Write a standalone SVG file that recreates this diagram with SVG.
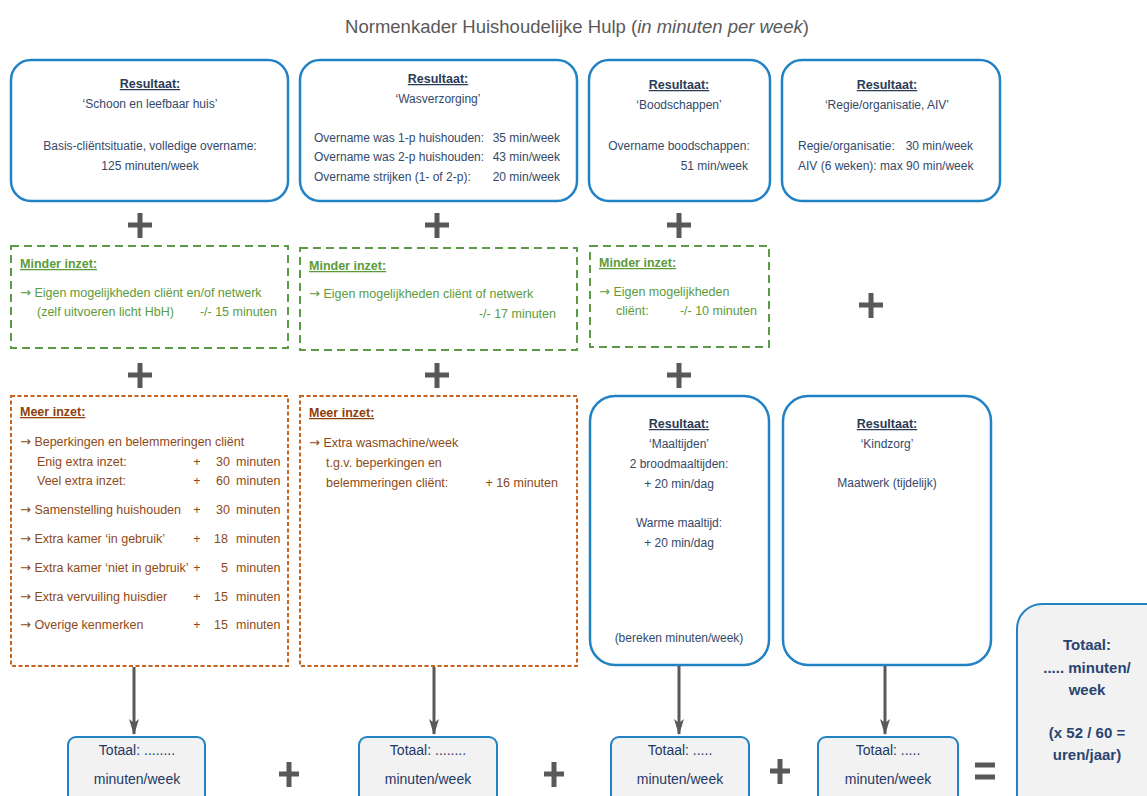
<svg xmlns="http://www.w3.org/2000/svg" width="1147" height="796" viewBox="0 0 1147 796">
<style>
  text { font-family: "Liberation Sans", Arial, sans-serif; }
  .title { font-size: 18.5px; fill: #595959; }
  .res { fill: #fff; stroke: #2382c4; stroke-width: 2.5; }
  .tot { fill: #f2f2f2; stroke: #2382c4; stroke-width: 2; }
  .min { fill: #fff; stroke: #5b9a46; stroke-width: 2; stroke-dasharray: 8 5; }
  .meer { fill: #fff; stroke: #c8641e; stroke-width: 2; stroke-dasharray: 4 2.5; }
  .h { font-size: 12.5px; font-weight: bold; fill: #2a3b57; text-decoration: underline; }
  .t { font-size: 12px; fill: #34496a; }
  .c { text-anchor: middle; }
  .r { text-anchor: end; }
  .gh { font-size: 12.5px; font-weight: bold; fill: #5c9b3c; text-decoration: underline; }
  .g { font-size: 12.5px; fill: #5c9b3c; }
  .oh { font-size: 12.5px; font-weight: bold; fill: #8e3f0c; text-decoration: underline; }
  .o { font-size: 12.5px; fill: #8e4a18; }
  .ar { font-family: "DejaVu Sans", sans-serif; font-size: 13px; }
  .tt { font-size: 14px; fill: #1f3864; text-anchor: middle; }
  .bt { font-size: 15px; font-weight: bold; fill: #2a4470; text-anchor: middle; }
  .op { stroke: #595959; stroke-width: 5; fill: none; }
  .conn { stroke: #595959; stroke-width: 3; fill: none; }
</style>
<defs>
  <marker id="ah" viewBox="0 0 16 10" refX="15" refY="5" markerWidth="16" markerHeight="10" markerUnits="userSpaceOnUse" orient="auto">
    <path d="M0 0 L16 5 L0 10 L4 5 Z" fill="#595959"/>
  </marker>
</defs>

<text class="title" x="577" y="33" text-anchor="middle">Normenkader Huishoudelijke Hulp (<tspan font-style="italic">in minuten per week</tspan>)</text>

<!-- Top result boxes -->
<g id="res-schoon">
  <rect class="res" x="11" y="60" width="277" height="141" rx="20"/>
  <text class="h c" x="150" y="88">Resultaat:</text>
  <text class="t c" x="150" y="108">‘Schoon en leefbaar huis’</text>
  <text class="t c" x="150" y="150">Basis-cliëntsituatie, volledige overname:</text>
  <text class="t c" x="150" y="170">125 minuten/week</text>
</g>
<g id="res-was">
  <rect class="res" x="300" y="60" width="277" height="141" rx="20"/>
  <text class="h c" x="438" y="83">Resultaat:</text>
  <text class="t c" x="438" y="103">‘Wasverzorging’</text>
  <text class="t" x="314" y="142">Overname was 1-p huishouden:</text>
  <text class="t r" x="560" y="142">35 min/week</text>
  <text class="t" x="314" y="161">Overname was 2-p huishouden:</text>
  <text class="t r" x="560" y="161">43 min/week</text>
  <text class="t" x="314" y="181">Overname strijken (1- of 2-p):</text>
  <text class="t r" x="560" y="181">20 min/week</text>
</g>
<g id="res-boodschappen">
  <rect class="res" x="589" y="60" width="181" height="141" rx="20"/>
  <text class="h c" x="679" y="89">Resultaat:</text>
  <text class="t c" x="679" y="109">‘Boodschappen’</text>
  <text class="t c" x="679" y="150">Overname boodschappen:</text>
  <text class="t r" x="748" y="170">51 min/week</text>
</g>
<g id="res-regie">
  <rect class="res" x="782" y="60" width="218" height="141" rx="20"/>
  <text class="h c" x="887" y="89">Resultaat:</text>
  <text class="t c" x="887" y="109">‘Regie/organisatie, AIV’</text>
  <text class="t" x="798" y="150">Regie/organisatie:</text>
  <text class="t r" x="973" y="150">30 min/week</text>
  <text class="t" x="798" y="170">AIV (6 weken): max 90 min/week</text>
</g>

<!-- Minder inzet -->
<g id="minder-1">
  <rect class="min" x="11" y="246" width="277" height="102"/>
  <text class="gh" x="20" y="268">Minder inzet:</text>
  <text class="g" x="20" y="297"><tspan class="ar">→</tspan> Eigen mogelijkheden cliënt en/of netwerk</text>
  <text class="g" x="37" y="316">(zelf uitvoeren licht HbH)</text>
  <text class="g r" x="277" y="316">-/- 15 minuten</text>
</g>
<g id="minder-2">
  <rect class="min" x="300" y="248" width="277" height="102"/>
  <text class="gh" x="309" y="270">Minder inzet:</text>
  <text class="g" x="309" y="298"><tspan class="ar">→</tspan> Eigen mogelijkheden cliënt of netwerk</text>
  <text class="g r" x="556" y="318">-/- 17 minuten</text>
</g>
<g id="minder-3">
  <rect class="min" x="590" y="246" width="179" height="101"/>
  <text class="gh" x="599" y="267">Minder inzet:</text>
  <text class="g" x="599" y="296"><tspan class="ar">→</tspan> Eigen mogelijkheden</text>
  <text class="g" x="616" y="315">cliënt:</text>
  <text class="g r" x="757" y="315">-/- 10 minuten</text>
</g>

<!-- Meer inzet -->
<g id="meer-1">
  <rect class="meer" x="11" y="396" width="277" height="270"/>
  <text class="oh" x="20" y="416">Meer inzet:</text>
  <text class="o" x="20" y="446"><tspan class="ar">→</tspan> Beperkingen en belemmeringen cliënt</text>
  <text class="o" x="37" y="466">Enig extra inzet:</text>
  <text class="o" x="37" y="485">Veel extra inzet:</text>
  <text class="o" x="20" y="514"><tspan class="ar">→</tspan> Samenstelling huishouden</text>
  <text class="o" x="20" y="543"><tspan class="ar">→</tspan> Extra kamer ‘in gebruik’</text>
  <text class="o" x="20" y="572"><tspan class="ar">→</tspan> Extra kamer ‘niet in gebruik’</text>
  <text class="o" x="20" y="601"><tspan class="ar">→</tspan> Extra vervuiling huisdier</text>
  <text class="o" x="20" y="629"><tspan class="ar">→</tspan> Overige kenmerken</text>
  <g>
    <text class="o c" x="197" y="466">+</text><text class="o r" x="230" y="466">30</text><text class="o" x="236" y="466">minuten</text>
    <text class="o c" x="197" y="485">+</text><text class="o r" x="230" y="485">60</text><text class="o" x="236" y="485">minuten</text>
    <text class="o c" x="197" y="514">+</text><text class="o r" x="230" y="514">30</text><text class="o" x="236" y="514">minuten</text>
    <text class="o c" x="197" y="543">+</text><text class="o r" x="228" y="543">18</text><text class="o" x="236" y="543">minuten</text>
    <text class="o c" x="197" y="572">+</text><text class="o r" x="228" y="572">5</text><text class="o" x="236" y="572">minuten</text>
    <text class="o c" x="197" y="601">+</text><text class="o r" x="228" y="601">15</text><text class="o" x="236" y="601">minuten</text>
    <text class="o c" x="197" y="629">+</text><text class="o r" x="228" y="629">15</text><text class="o" x="236" y="629">minuten</text>
  </g>
</g>
<g id="meer-2">
  <rect class="meer" x="300" y="396" width="277" height="270"/>
  <text class="oh" x="309" y="417">Meer inzet:</text>
  <text class="o" x="309" y="447"><tspan class="ar">→</tspan> Extra wasmachine/week</text>
  <text class="o" x="326" y="467">t.g.v. beperkingen en</text>
  <text class="o" x="326" y="487">belemmeringen cliënt:</text>
  <text class="o r" x="558" y="487">+ 16 minuten</text>
</g>

<!-- Maaltijden / Kindzorg -->
<g id="res-maaltijden">
  <rect class="res" x="590" y="396" width="179" height="269" rx="25"/>
  <text class="h c" x="679" y="428">Resultaat:</text>
  <text class="t c" x="679" y="448">‘Maaltijden’</text>
  <text class="t c" x="679" y="468">2 broodmaaltijden:</text>
  <text class="t c" x="679" y="488">+ 20 min/dag</text>
  <text class="t c" x="679" y="527">Warme maaltijd:</text>
  <text class="t c" x="679" y="547">+ 20 min/dag</text>
  <text class="t c" x="679" y="642">(bereken minuten/week)</text>
</g>
<g id="res-kindzorg">
  <rect class="res" x="783" y="396" width="208" height="269" rx="25"/>
  <text class="h c" x="887" y="428">Resultaat:</text>
  <text class="t c" x="887" y="448">‘Kindzorg’</text>
  <text class="t c" x="887" y="487">Maatwerk (tijdelijk)</text>
</g>

<!-- Totaal boxes -->
<g id="tot-1">
  <rect class="tot" x="68" y="737" width="137" height="80" rx="8"/>
  <text class="tt" x="137" y="755">Totaal: ........</text>
  <text class="tt" x="137" y="784">minuten/week</text>
</g>
<g id="tot-2">
  <rect class="tot" x="359" y="737" width="138" height="80" rx="8"/>
  <text class="tt" x="428" y="755">Totaal: ........</text>
  <text class="tt" x="428" y="784">minuten/week</text>
</g>
<g id="tot-3">
  <rect class="tot" x="611" y="737" width="138" height="80" rx="8"/>
  <text class="tt" x="680" y="755">Totaal: .....</text>
  <text class="tt" x="680" y="784">minuten/week</text>
</g>
<g id="tot-4">
  <rect class="tot" x="818" y="737" width="140" height="80" rx="8"/>
  <text class="tt" x="888" y="755">Totaal: .....</text>
  <text class="tt" x="888" y="784">minuten/week</text>
</g>
<g id="tot-all">
  <rect class="tot" x="1017" y="604" width="160" height="230" rx="25"/>
  <text class="bt" x="1087" y="650">Totaal:</text>
  <text class="bt" x="1087" y="673">..... minuten/</text>
  <text class="bt" x="1087" y="695">week</text>
  <text class="bt" x="1087" y="738">(x 52 / 60 =</text>
  <text class="bt" x="1087" y="760">uren/jaar)</text>
</g>

<!-- Operators -->
<g id="operators">
  <path class="op" d="M128 225 H152 M140 213 V238"/>
  <path class="op" d="M425 225 H449 M437 213 V238"/>
  <path class="op" d="M667 225 H691 M679 213 V238"/>
  <path class="op" d="M859 305 H883 M871 293 V318"/>
  <path class="op" d="M128 375 H152 M140 363 V388"/>
  <path class="op" d="M425 375 H449 M437 363 V388"/>
  <path class="op" d="M667 375 H691 M679 363 V388"/>
  <path class="op" d="M279 774 H299 M289 762 V787"/>
  <path class="op" d="M544 774 H564 M554 762 V787"/>
  <path class="op" d="M770 771 H790 M780 759 V784"/>
  <path class="op" d="M975 765 H995 M975 777 H995"/>
</g>

<!-- Connectors -->
<g id="connectors">
  <path class="conn" d="M134 667 V734" marker-end="url(#ah)"/>
  <path class="conn" d="M434 667 V734" marker-end="url(#ah)"/>
  <path class="conn" d="M679 666 V734" marker-end="url(#ah)"/>
  <path class="conn" d="M885 666 V734" marker-end="url(#ah)"/>
</g>
</svg>
